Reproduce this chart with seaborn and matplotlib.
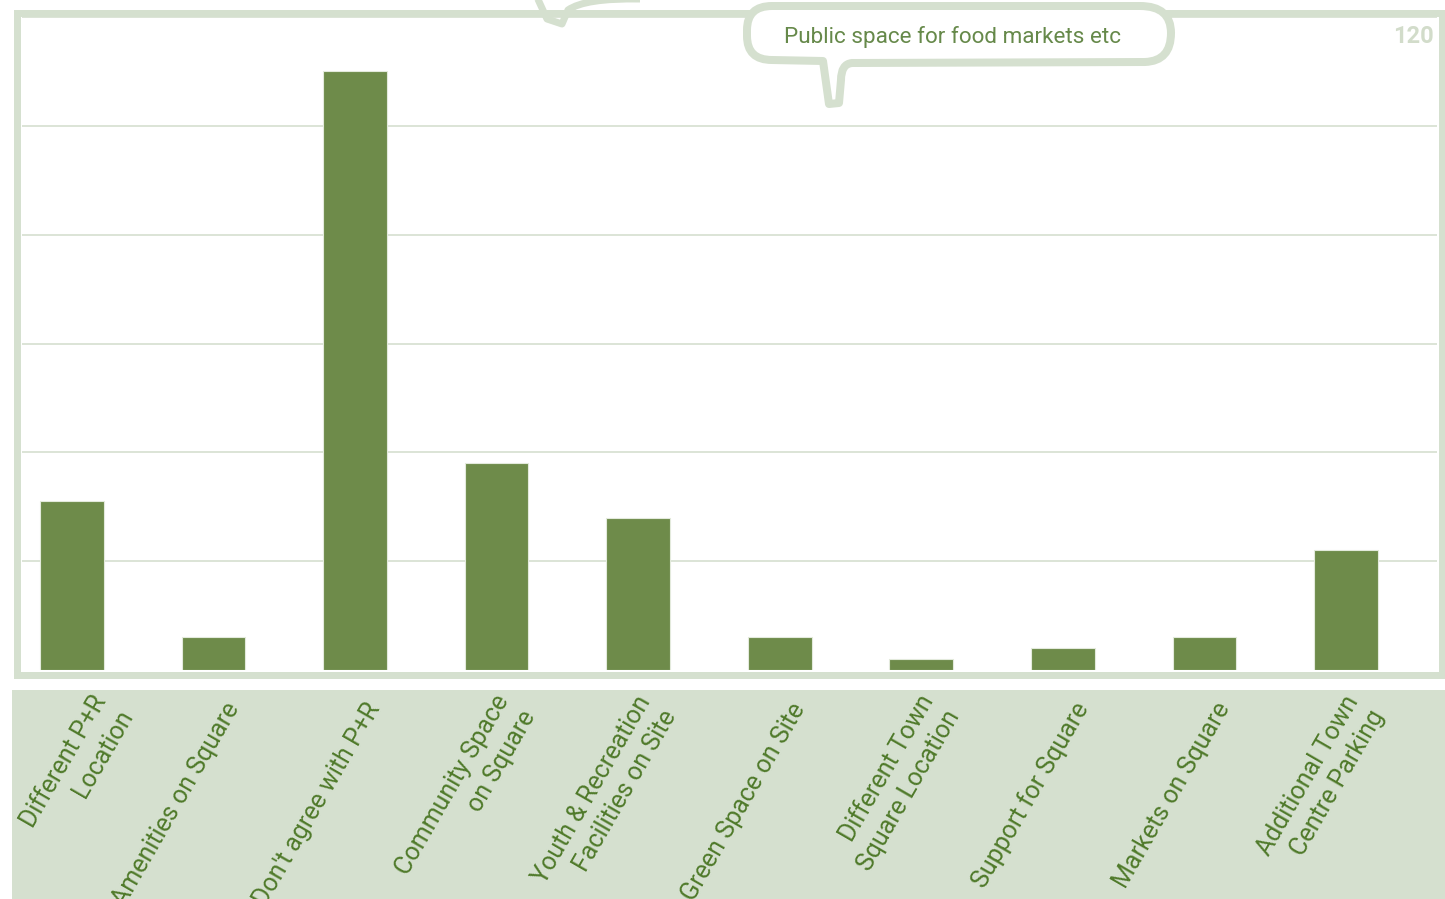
import matplotlib
matplotlib.use("Agg")
import matplotlib.pyplot as plt
import matplotlib.transforms as mtransforms
from matplotlib.path import Path
from matplotlib.patches import PathPatch, Rectangle
import seaborn as sns
import pandas as pd

categories = [
    "Different P+R\nLocation",
    "Amenities on Square",
    "Don't agree with P+R",
    "Community Space\non Square",
    "Youth & Recreation\nFacilities on Site",
    "Green Space on Site",
    "Different Town\nSquare Location",
    "Support for Square",
    "Markets on Square",
    "Additional Town\nCentre Parking",
]
values = [31, 6, 110, 38, 28, 6, 2, 4, 6, 22]
y_ticks = [20, 40, 60, 80, 100, 120]
callout_text = "Public space for food markets etc"

BAR = "#6e8b4a"
LIGHT = "#d5e0cf"
GRID = "#d9e2d3"
LABEL = "#4f7a2a"

W, H = 1445, 899
sns.set_theme(style="white")
plt.rcParams["font.family"] = ["Roboto", "DejaVu Sans"]

fig = plt.figure(figsize=(W / 100, H / 100), dpi=100)
fig.patch.set_facecolor("white")

# pixel -> figure transform (image coords, y downward)
pix = mtransforms.Affine2D().scale(1 / W, -1 / H).translate(0, 1) + fig.transFigure

# label band
fig.patches.append(Rectangle((12, 690), W - 12, H - 690, transform=pix,
                             facecolor=LIGHT, edgecolor="none", zorder=-2))
# frame
fig.patches.append(Rectangle((16.5, 12.5), 1425, 662, transform=pix,
                             facecolor="none", edgecolor=LIGHT, linewidth=7 * 0.72,
                             zorder=-1))

ax = fig.add_axes([22 / W, (H - 670) / H, 1415 / W, (670 - 17) / H])
ax.patch.set_alpha(0)
df = pd.DataFrame({"cat": categories, "val": values})
sns.barplot(data=df, x="cat", y="val", color=BAR, saturation=1, width=0.45,
            edgecolor="#e3eadc", linewidth=0.8, ax=ax, zorder=3)
ax.set_xlim(-0.353, 9.643)
ax.set_ylim(0, 120)
ax.set_yticks(y_ticks)
ax.set_yticklabels([])
ax.tick_params(axis="y", length=0)
ax.grid(axis="y", color=GRID, linewidth=1.3, zorder=0)
ax.set_axisbelow(True)
for s in ax.spines.values():
    s.set_visible(False)
ax.set_xlabel("")
ax.set_ylabel("")

ax.tick_params(axis="x", length=0, pad=25)
ax.set_xticks(range(len(categories)))
ax.set_xticklabels(categories, rotation=60, ha="right", va="center",
                   rotation_mode="anchor", multialignment="right",
                   color=LABEL, fontsize=18, linespacing=1.3)
for i, lab in enumerate(ax.get_xticklabels()):
    dx = 20 + (22 if i == 0 else 0)
    off = mtransforms.ScaledTranslation(dx / 100, 0, fig.dpi_scale_trans)
    lab.set_transform(lab.get_transform() + off)

# top tick label "120"
off120 = mtransforms.ScaledTranslation(0, -8 / 100, fig.dpi_scale_trans)
ax.text(0.9975, 120, str(y_ticks[-1]), transform=ax.get_yaxis_transform() + off120,
        ha="right", va="top", fontsize=17, fontweight="bold", color="#d2dcca",
        zorder=5)

# speech bubble
verts = [(772, 6), (1140, 6), (1171, 6), (1171, 33), (1171, 61), (1145, 62),
         (852, 63), (841, 64), (841, 80), (839, 103), (829, 104), (823, 61),
         (772, 60), (747, 60), (747, 36), (747, 30), (747, 6), (772, 6), (772, 6)]
codes = [Path.MOVETO, Path.LINETO, Path.CURVE3, Path.CURVE3, Path.CURVE3, Path.CURVE3,
         Path.LINETO, Path.CURVE3, Path.CURVE3, Path.LINETO, Path.LINETO, Path.LINETO,
         Path.LINETO, Path.CURVE3, Path.CURVE3, Path.LINETO, Path.CURVE3, Path.CURVE3,
         Path.CLOSEPOLY]
fig.patches.append(PathPatch(Path(verts, codes), transform=pix, facecolor="white",
                             edgecolor=LIGHT, linewidth=8 * 0.72, joinstyle="round",
                             zorder=6))
fig.text(953 / W, 1 - 37 / H, callout_text, ha="center", va="center",
         fontsize=16.2, fontweight="normal", color="#66894a", zorder=7)

# partial bubble tail at top-left
tverts = [(536, -5), (547, 19), (562, 24), (568, 10), (585, -2), (640, -1)]
tcodes = [Path.MOVETO, Path.LINETO, Path.LINETO, Path.LINETO, Path.CURVE3, Path.CURVE3]
fig.patches.append(PathPatch(Path(tverts, tcodes), transform=pix, facecolor="none",
                             edgecolor=LIGHT, linewidth=7 * 0.72, joinstyle="round",
                             zorder=6))

fig.savefig("out.png", dpi=100)
